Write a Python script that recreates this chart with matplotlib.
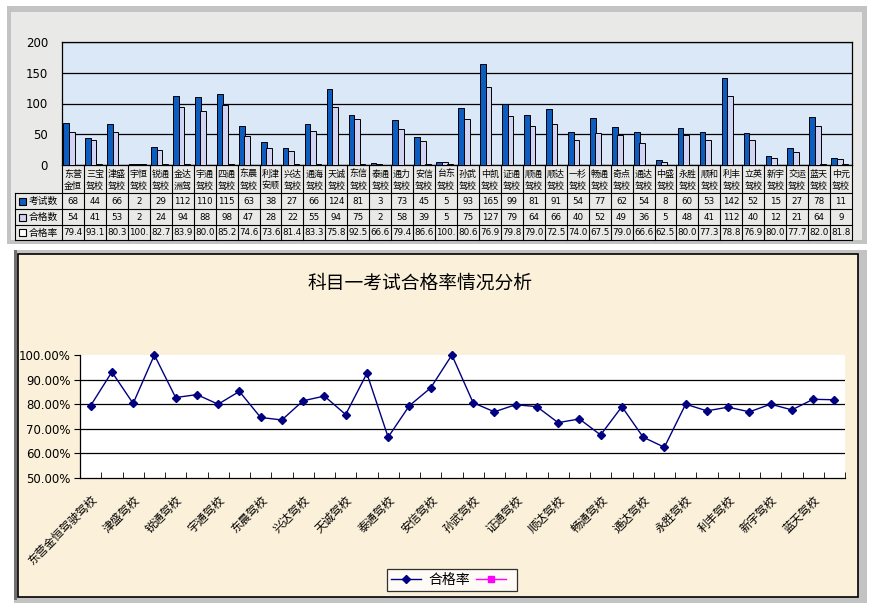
import matplotlib
matplotlib.use("Agg")
import matplotlib.pyplot as plt
from matplotlib.patches import Rectangle
from matplotlib.lines import Line2D
import numpy as np

plt.rcParams['font.family'] = ['Noto Sans CJK SC', 'DejaVu Sans']

# ---------------- data ----------------
schools = ["东营金恒", "三宝驾校", "津盛驾校", "宇恒驾校", "锐通驾校", "金达洲驾", "宇通驾校", "四通驾校",
           "东晨驾校", "利津安顺", "兴达驾校", "通海驾校", "天诚驾校", "东信驾校", "泰通驾校", "通力驾校",
           "安信驾校", "台东驾校", "孙武驾校", "中凯驾校", "证通驾校", "顺通驾校", "顺达驾校", "一杉驾校",
           "畅通驾校", "奇点驾校", "通达驾校", "中盛驾校", "永胜驾校", "顺和驾校", "利丰驾校", "立英驾校",
           "新宇驾校", "交运驾校", "蓝天驾校", "中元驾校"]
exam_counts = [68, 44, 66, 2, 29, 112, 110, 115, 63, 38, 27, 66, 124, 81, 3, 73, 45, 5,
               93, 165, 99, 81, 91, 54, 77, 62, 54, 8, 60, 53, 142, 52, 15, 27, 78, 11]
pass_counts = [54, 41, 53, 2, 24, 94, 88, 98, 47, 28, 22, 55, 94, 75, 2, 58, 39, 5,
               75, 127, 79, 64, 66, 40, 52, 49, 36, 5, 48, 41, 112, 40, 12, 21, 64, 9]
pass_rates = [79.4, 93.1, 80.3, 100.0, 82.7, 83.9, 80.0, 85.2, 74.6, 73.6, 81.4, 83.3, 75.8, 92.5,
              66.6, 79.4, 86.6, 100.0, 80.6, 76.9, 79.8, 79.0, 72.5, 74.0, 67.5, 79.0, 66.6, 62.5,
              80.0, 77.3, 78.8, 76.9, 80.0, 77.7, 82.0, 81.8]
bottom_labels = ["东营金恒驾驶驾校", "津盛驾校", "锐通驾校", "宇通驾校", "东晨驾校", "兴达驾校", "天诚驾校",
                 "泰通驾校", "安信驾校", "孙武驾校", "证通驾校", "顺达驾校", "畅通驾校", "通达驾校",
                 "永胜驾校", "利丰驾校", "新宇驾校", "蓝天驾校"]
row_names = ["考试数", "合格数", "合格率"]
top_yticks = [0, 50, 100, 150, 200]
bottom_yticks = [0.5, 0.6, 0.7, 0.8, 0.9, 1.0]
title = "科目一考试合格率情况分析"

# ---------------- figure ----------------
W, H = 873, 606
fig = plt.figure(figsize=(W / 100, H / 100), dpi=100)
fig.patch.set_facecolor('white')


def ax_px(l, t, r, b, **kw):
    return fig.add_axes([l / W, 1 - b / H, (r - l) / W, (b - t) / H], **kw)


bg = ax_px(0, 0, W, H)
bg.set_xlim(0, W)
bg.set_ylim(H, 0)
bg.axis('off')
bg.set_zorder(-10)
# top panel
bg.add_patch(Rectangle((7, 6), 860, 238, facecolor='#c3c3c3', edgecolor='none'))
bg.add_patch(Rectangle((11, 12), 851, 228, facecolor='#e9e9e7', edgecolor='none'))
# bottom panel
bg.add_patch(Rectangle((14, 250), 853, 353, facecolor='#c3c3c3', edgecolor='none'))
bg.add_patch(Rectangle((14, 250), 3, 350, facecolor='#707070', edgecolor='none'))
bg.add_patch(Rectangle((18, 254), 840, 343, facecolor='#fbf0d9', edgecolor='black', linewidth=1.2))

n = len(schools)
x = np.arange(n)

# ---------------- top bar chart ----------------
ax1 = ax_px(62, 42, 852, 165)
ax1.set_facecolor('#dae8f8')
bw = 0.26
ax1.bar(x - 0.31, exam_counts, bw, color='#0d5cc0', edgecolor='black', linewidth=0.7, zorder=3)
ax1.bar(x - 0.06, pass_counts, bw, color='#d2d2f2', edgecolor='black', linewidth=0.7, zorder=3)
ax1.bar(x + 0.19, [r / 100 for r in pass_rates], bw, color='white', edgecolor='black', linewidth=0.7, zorder=3)
ax1.set_xlim(-0.5, n - 0.5)
ax1.set_ylim(0, 200)
ax1.set_yticks(top_yticks)
ax1.set_yticklabels([str(v) for v in top_yticks], fontsize=8.5, family='DejaVu Sans')
ax1.yaxis.grid(True, color='black', linewidth=0.9, zorder=1)
ax1.set_xticks([])
ax1.tick_params(axis='y', length=0, pad=10)
for s in ax1.spines.values():
    s.set_color('black')
    s.set_linewidth(0.9)

# ---------------- table ----------------
axt = ax_px(62, 165, 852, 240)
axt.set_xlim(-0.5, n - 0.5)
axt.set_ylim(75, 0)
axt.axis('off')
pitch = 790 / n
left_x = -0.5 - (62 - 15) / pitch
row_y = [28, 44, 60, 75]
for yy in row_y:
    axt.plot([left_x, n - 0.5], [yy, yy], color='black', lw=0.8, clip_on=False)
axt.plot([left_x, left_x], [28, 75], color='black', lw=0.8, clip_on=False)
for k in range(n + 1):
    axt.plot([k - 0.5, k - 0.5], [0, 75], color='black', lw=0.8, clip_on=False)
for i, name in enumerate(schools):
    axt.text(i, 9, name[:2], ha='center', va='center', fontsize=6.5)
    axt.text(i, 21, name[2:], ha='center', va='center', fontsize=6.5)
    axt.text(i, 36, str(exam_counts[i]), ha='center', va='center', fontsize=6.3, family='DejaVu Sans')
    axt.text(i, 52, str(pass_counts[i]), ha='center', va='center', fontsize=6.3, family='DejaVu Sans')
    s = f"{pass_rates[i]:.1f}"[:4]
    axt.text(i, 67.5, s, ha='center', va='center', fontsize=6.3, family='DejaVu Sans')
key_colors = ['#0d5cc0', '#d2d2f2', 'white']
for j, (rn, kc) in enumerate(zip(row_names, key_colors)):
    yc = (row_y[j] + row_y[j + 1]) / 2
    kx = left_x + 4 / pitch
    axt.add_patch(Rectangle((kx, yc - 3.5), 7 / pitch, 7, facecolor=kc, edgecolor='black',
                            linewidth=0.8, clip_on=False))
    axt.text(kx + 10 / pitch, yc, rn, ha='left', va='center', fontsize=7, clip_on=False)

# ---------------- bottom line chart ----------------
ax2 = ax_px(80, 355, 845, 478)
ax2.set_facecolor('white')
ax2.hlines(bottom_yticks[1:-1], -0.5, n - 0.5, colors='black', linewidth=0.9, zorder=1)
ax2.plot(x, [r / 100 for r in pass_rates], color='#000080', linewidth=1, marker='D',
         markersize=3.8, markerfacecolor='#000080', zorder=3, clip_on=False)
ax2.set_xlim(-0.5, n - 0.5)
ax2.set_ylim(0.5, 1.0)
ax2.set_yticks(bottom_yticks)
ax2.set_yticklabels([f"{v * 100:.2f}%" for v in bottom_yticks], fontsize=8.5, family='DejaVu Sans')
ax2.tick_params(axis='y', direction='out', length=4, pad=3)
ax2.set_xticks(np.arange(0, n, 2))
ax2.set_xticklabels(bottom_labels, rotation=45, ha='right', va='top', rotation_mode='anchor', fontsize=8.3)
for lab in ax2.get_xticklabels():
    lab.set_x(lab.get_position()[0])
ax2.set_xticks(np.arange(-0.5, n, 1), minor=True)
ax2.tick_params(axis='x', which='major', length=0, pad=11)
ax2.tick_params(axis='x', which='minor', direction='in', length=4)
ax2.spines['top'].set_visible(False)
ax2.spines['right'].set_visible(False)
for s in ['left', 'bottom']:
    ax2.spines[s].set_color('black')
    ax2.spines[s].set_linewidth(0.9)

fig.text(420 / W, 1 - 283 / H, title, ha='center', va='center', fontsize=13.5)

handles = [Line2D([], [], color='#000080', marker='D', markersize=3.8, lw=1),
           Line2D([], [], color='#ff00ff', marker='s', markersize=3.8, lw=1)]
leg = ax2.legend(handles, ['合格率', ''], ncol=2, loc='center',
                 bbox_to_anchor=(452 / W, 1 - 580 / H), bbox_transform=fig.transFigure,
                 fontsize=10, frameon=True, fancybox=False, handlelength=2.2,
                 columnspacing=0.4, handletextpad=0.5, borderpad=0.3)
leg.get_frame().set_edgecolor('black')
leg.get_frame().set_linewidth(0.9)
leg.get_frame().set_facecolor('white')

fig.savefig('out.png', dpi=100)
